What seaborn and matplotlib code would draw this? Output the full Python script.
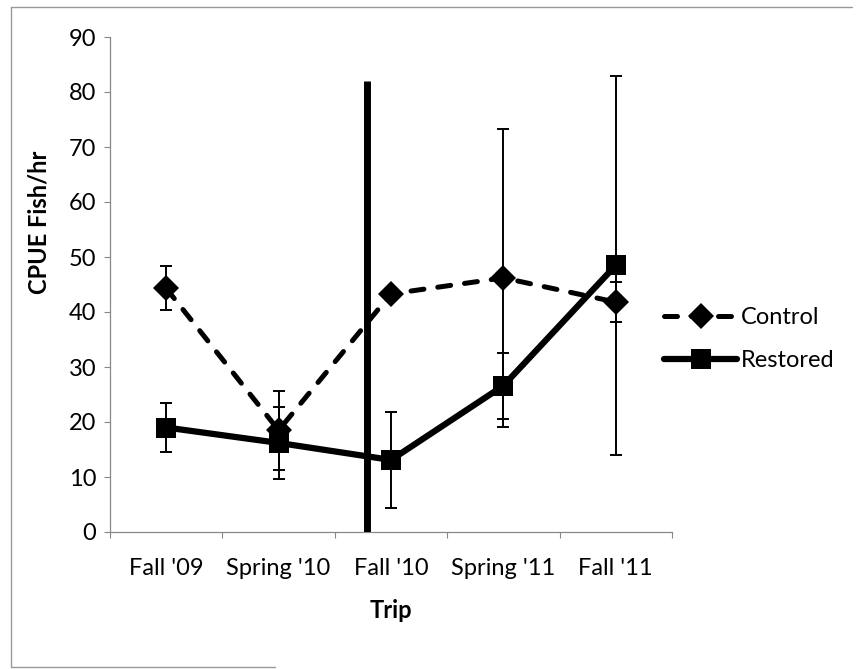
import matplotlib
matplotlib.use("Agg")
import matplotlib.pyplot as plt
from matplotlib.lines import Line2D
import numpy as np
import pandas as pd
import seaborn as sns

# CPUE by sampling trip
trips = ["Fall '09", "Spring '10", "Fall '10", "Spring '11", "Fall '11"]
control_mean = [44.3, 18.5, 43.3, 46.2, 41.8]
control_err = [4.0, 7.2, 0.0, 27.1, 3.6]
restored_mean = [19.0, 16.2, 13.1, 26.6, 48.5]
restored_err = [4.5, 6.5, 8.7, 6.0, 34.5]

# Restoration event marker (between Spring '10 and Fall '10)
event_pos = 1.79
event_top = 82

sns.set_theme(style="white")
plt.rcParams["font.family"] = ["Lato", "DejaVu Sans"]
plt.rcParams.update({
    "text.color": "black",
    "axes.labelcolor": "black",
    "xtick.labelcolor": "black",
    "ytick.labelcolor": "black",
})

df = pd.DataFrame({
    "idx": list(range(len(trips))) * 2,
    "CPUE": control_mean + restored_mean,
    "err": control_err + restored_err,
    "Site": ["Control"] * len(trips) + ["Restored"] * len(trips),
})

fig = plt.figure(figsize=(8.57, 6.70), dpi=100)
ax = fig.add_axes([110 / 857, 1 - 532 / 670, 562 / 857, (532 - 37) / 670])

# error bars first, so the series lines sit on top
for site in ["Control", "Restored"]:
    sub = df[df["Site"] == site]
    ax.errorbar(sub["idx"], sub["CPUE"], yerr=sub["err"], fmt="none",
                ecolor="black", elinewidth=1.4, capsize=4.5, capthick=1.4,
                zorder=2)

ctrl_dash = (2.6, 2.8)
ctrl = df[df["Site"] == "Control"]
rest = df[df["Site"] == "Restored"]
sns.lineplot(data=ctrl, x="idx", y="CPUE", ax=ax, color="black",
             linewidth=3.6, marker="D", markersize=13, markeredgewidth=0,
             dashes=False, zorder=3, legend=False)
ax.lines[-1].set_dashes(ctrl_dash)
ax.lines[-1].set_dash_capstyle("round")
sns.lineplot(data=rest, x="idx", y="CPUE", ax=ax, color="black",
             linewidth=4.5, marker="s", markersize=15, markeredgewidth=0,
             zorder=4, legend=False)

# restoration event line
ax.vlines(event_pos, 0, event_top, color="black", linewidth=5, zorder=5)

ax.set_xlim(-0.5, len(trips) - 0.5)
ax.set_ylim(0, 90)
ax.set_yticks(np.arange(0, 91, 10))
ax.set_xticks(np.arange(-0.5, len(trips), 1.0))
ax.set_xticklabels([])
ax.set_xticks(np.arange(len(trips)), minor=True)
ax.set_xticklabels(trips, minor=True)
ax.tick_params(axis="x", which="major", direction="out", length=4,
               width=0.8, color="#888888", bottom=True)
ax.tick_params(axis="x", which="minor", length=0, pad=19, labelsize=17,
               labelcolor="black")
ax.tick_params(axis="y", direction="out", length=4, width=0.8,
               color="#888888", left=True, labelsize=17, pad=6,
               labelcolor="black")

for side in ["top", "right"]:
    ax.spines[side].set_visible(False)
for side in ["left", "bottom"]:
    ax.spines[side].set_color("#888888")
    ax.spines[side].set_linewidth(0.9)

ax.set_xlabel("Trip", fontsize=17, fontweight="bold", labelpad=14)
ax.set_ylabel("CPUE Fish/hr", fontsize=17, fontweight="bold")
ax.yaxis.set_label_coords(-0.105, 0.626)

handles = [
    Line2D([], [], color="black", linewidth=3.6, dashes=ctrl_dash,
           dash_capstyle="round", marker="D", markersize=13,
           markeredgewidth=0),
    Line2D([], [], color="black", linewidth=4.5, marker="s",
           markersize=15, markeredgewidth=0),
]
fig.legend(handles, ["Control", "Restored"], loc="center left",
           bbox_to_anchor=(664 / 857, 1 - 339 / 670), frameon=False,
           fontsize=17, handlelength=3.1, handletextpad=0.15,
           labelspacing=0.95, borderpad=0, borderaxespad=0,
           labelcolor="black")

# thin outer frame
frame_kw = dict(color="#999999", linewidth=1.0, transform=fig.transFigure)
fig.add_artist(Line2D([11 / 857, 11 / 857], [1 - 7 / 670, 1 - 667 / 670], **frame_kw))
fig.add_artist(Line2D([11 / 857, 852 / 857], [1 - 7 / 670, 1 - 7 / 670], **frame_kw))
fig.add_artist(Line2D([11 / 857, 275 / 857], [1 - 667 / 670, 1 - 667 / 670], **frame_kw))

fig.savefig("out.png", dpi=100, facecolor="white")
